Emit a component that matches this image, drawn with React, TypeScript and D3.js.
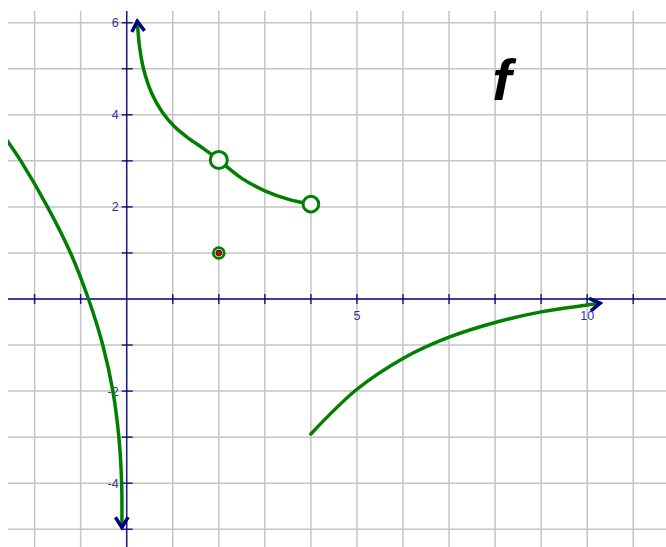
import React, { useEffect, useRef } from "react";
import * as d3 from "d3";

// grid / tick positions (units)
const gridX = [-2, -1, 0, 1, 2, 3, 4, 5, 6, 7, 8, 9, 10, 11];
const gridY = [-5, -4, -3, -2, -1, 0, 1, 2, 3, 4, 5, 6];
const xLabels = [5, 10];
const yLabels = [-4, -2, 2, 4, 6];

// the pieces of f
const leftPiece: [number, number][] = [
  [-2.66, 3.53], [-2.59, 3.43], [-2.3, 3.0], [-1.72, 2.0], [-1.22, 1.0],
  [-0.83, 0.0], [-0.52, -1.0], [-0.3, -2.0], [-0.17, -3.0], [-0.11, -4.0],
  [-0.105, -4.96],
];
const upperPieceA: [number, number][] = [
  [2.0, 3.02], [1.66, 3.27], [1.33, 3.5], [1.03, 3.75], [0.77, 4.06],
  [0.55, 4.45], [0.365, 5.0], [0.28, 5.47], [0.23, 6.03],
];
const upperPieceB: [number, number][] = [
  [2.0, 3.02], [2.5, 2.62], [3.0, 2.35], [3.5, 2.17], [4.0, 2.06],
];
const rightPiece: [number, number][] = [
  [4.0, -2.93], [5.0, -1.96], [6.0, -1.29], [7.0, -0.83], [8.0, -0.51],
  [9.0, -0.28], [10.0, -0.13], [10.28, -0.09],
];
const openPoints: [number, number][] = [[2, 3.02], [4, 2.06]];
const closedPoints: [number, number][] = [[2, 1]];

const App = () => {
  const svgRef = useRef<SVGSVGElement | null>(null);

  useEffect(() => {
    const width = 666;
    const height = 547;
    const plot = { left: 8, top: 11, right: 666, bottom: 547 };
    const unit = 46.05;
    const x0 = 126.7;
    const y0 = 299;

    const svg = d3.select(svgRef.current);
    svg.selectAll("*").remove();
    svg.attr("width", width).attr("height", height);

    const x = d3
      .scaleLinear()
      .domain([(plot.left - x0) / unit, (plot.right - x0) / unit])
      .range([plot.left, plot.right]);
    const y = d3
      .scaleLinear()
      .domain([(y0 - plot.bottom) / unit, (y0 - plot.top) / unit])
      .range([plot.bottom, plot.top]);

    svg
      .append("defs")
      .append("clipPath")
      .attr("id", "plot-clip")
      .append("rect")
      .attr("x", plot.left)
      .attr("y", plot.top)
      .attr("width", plot.right - plot.left)
      .attr("height", plot.bottom - plot.top);

    // --- grid ---
    const grid = svg.append("g");
    grid
      .selectAll(".gx")
      .data(gridX)
      .join("line")
      .attr("x1", (d) => x(d))
      .attr("x2", (d) => x(d))
      .attr("y1", plot.top)
      .attr("y2", plot.bottom)
      .attr("stroke", "#c4c4c4")
      .attr("stroke-width", 1.5);
    grid
      .selectAll(".gy")
      .data(gridY)
      .join("line")
      .attr("y1", (d) => y(d))
      .attr("y2", (d) => y(d))
      .attr("x1", plot.left)
      .attr("x2", plot.right)
      .attr("stroke", "#c4c4c4")
      .attr("stroke-width", 1.5);

    // --- axes ---
    const axisColor = "#000080";
    svg
      .append("line")
      .attr("x1", plot.left)
      .attr("x2", plot.right)
      .attr("y1", y(0))
      .attr("y2", y(0))
      .attr("stroke", axisColor)
      .attr("stroke-opacity", 0.7)
      .attr("stroke-width", 2);
    svg
      .append("line")
      .attr("x1", x(0))
      .attr("x2", x(0))
      .attr("y1", plot.top)
      .attr("y2", plot.bottom)
      .attr("stroke", axisColor)
      .attr("stroke-opacity", 0.85)
      .attr("stroke-width", 1.5);

    svg
      .append("g")
      .selectAll("line")
      .data(gridX.filter((d) => d !== 0))
      .join("line")
      .attr("x1", (d) => x(d))
      .attr("x2", (d) => x(d))
      .attr("y1", y(0) - 5)
      .attr("y2", y(0) + 5)
      .attr("stroke", axisColor)
      .attr("stroke-opacity", 0.85)
      .attr("stroke-width", 1.5);
    svg
      .append("g")
      .selectAll("line")
      .data(gridY.filter((d) => d !== 0))
      .join("line")
      .attr("y1", (d) => y(d))
      .attr("y2", (d) => y(d))
      .attr("x1", x(0) - 5)
      .attr("x2", x(0) + 6)
      .attr("stroke", axisColor)
      .attr("stroke-opacity", 0.85)
      .attr("stroke-width", 1.5);

    const labelFont = "'Liberation Sans', Arial, sans-serif";
    svg
      .append("g")
      .selectAll("text")
      .data(xLabels)
      .join("text")
      .attr("x", (d) => x(d))
      .attr("y", y(0) + 20.5)
      .attr("text-anchor", "middle")
      .style("font-family", labelFont)
      .style("font-size", "12.5px")
      .style("fill", "#333399")
      .text((d) => d);
    svg
      .append("g")
      .selectAll("text")
      .data(yLabels)
      .join("text")
      .attr("x", x(0) - 8)
      .attr("y", (d) => y(d))
      .attr("dy", "0.36em")
      .attr("text-anchor", "end")
      .style("font-family", labelFont)
      .style("font-size", "12.5px")
      .style("fill", "#333399")
      .text((d) => d);

    // --- curves ---
    const line = d3
      .line<[number, number]>()
      .x((d) => x(d[0]))
      .y((d) => y(d[1]))
      .curve(d3.curveCatmullRom.alpha(0.5));

    const curves = svg.append("g").attr("clip-path", "url(#plot-clip)");
    [leftPiece, upperPieceA, upperPieceB, rightPiece].forEach((pts) => {
      curves
        .append("path")
        .attr("d", line(pts))
        .attr("fill", "none")
        .attr("stroke", "#008000")
        .attr("stroke-width", 3.5)
        .attr("stroke-linecap", "round");
    });

    // arrowheads at the open ends
    const arrowAt = (pts: [number, number][]) => {
      const [ax, ay] = pts[pts.length - 2];
      const [bx, by] = pts[pts.length - 1];
      const px = x(bx);
      const py = y(by);
      const ang = Math.atan2(py - y(ay), px - x(ax));
      const len = 12;
      const spread = (32 * Math.PI) / 180;
      const p1 = [px - len * Math.cos(ang - spread), py - len * Math.sin(ang - spread)];
      const p2 = [px - len * Math.cos(ang + spread), py - len * Math.sin(ang + spread)];
      svg
        .append("path")
        .attr("d", `M${p1[0]},${p1[1]}L${px},${py}L${p2[0]},${p2[1]}`)
        .attr("fill", "none")
        .attr("stroke", "#000080")
        .attr("stroke-width", 3.5)
        .attr("stroke-linejoin", "miter");
    };
    arrowAt(leftPiece);
    arrowAt(upperPieceA);
    arrowAt(rightPiece);

    // open circles
    svg
      .append("g")
      .selectAll("circle")
      .data(openPoints)
      .join("circle")
      .attr("cx", (d) => x(d[0]))
      .attr("cy", (d) => y(d[1]))
      .attr("r", (d, i) => (i === 0 ? 8.5 : 7.8))
      .attr("fill", "#fff")
      .attr("stroke", "#008000")
      .attr("stroke-width", 3);

    // filled point
    const dot = svg.append("g");
    closedPoints.forEach(([px, py]) => {
      dot
        .append("circle")
        .attr("cx", x(px))
        .attr("cy", y(py))
        .attr("r", 6.8)
        .attr("fill", "#008000");
      dot
        .append("circle")
        .attr("cx", x(px))
        .attr("cy", y(py))
        .attr("r", 3.9)
        .attr("fill", "#ffffcc");
      dot
        .append("circle")
        .attr("cx", x(px))
        .attr("cy", y(py))
        .attr("r", 2.9)
        .attr("fill", "#e00000")
        .attr("stroke", "#000")
        .attr("stroke-width", 0.8);
    });

    // function name
    svg
      .append("text")
      .attr("x", 502)
      .attr("y", 100)
      .attr("text-anchor", "middle")
      .style("font-family", "'Liberation Sans', Arial, sans-serif")
      .style("font-size", "58px")
      .style("font-weight", "bold")
      .style("font-style", "italic")
      .style("fill", "#000")
      .text("f");
  }, []);

  return (
    <svg
      ref={svgRef}
      style={{ position: "absolute", left: 0, top: 0, background: "#fff" }}
    ></svg>
  );
};

export default App;
